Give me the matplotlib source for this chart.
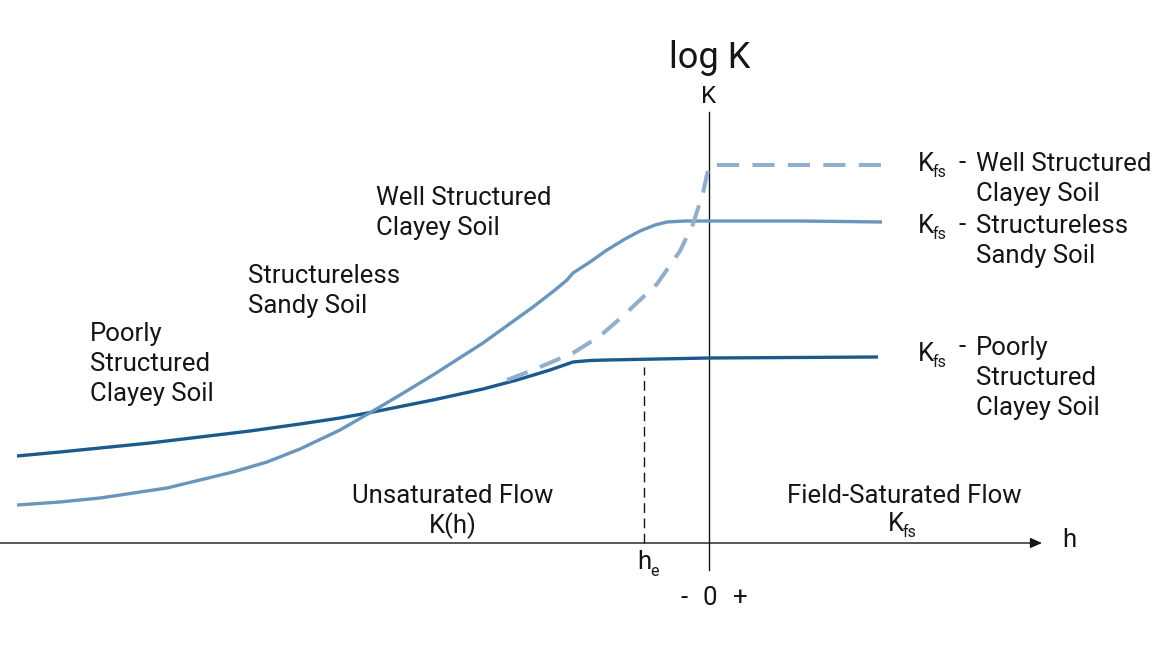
import matplotlib.pyplot as plt

plt.rcParams['font.family'] = ['Roboto', 'DejaVu Sans']

# schematic curves: h (0 = saturation) vs log K, arbitrary units
poorly_h = [-692, -649, -609, -559, -509, -459, -409, -369, -336, -276, -226, -192, -159, -136,
            -119, -102, 0, 169]
poorly_k = [87, 91, 95, 100, 106, 112, 119, 125, 131, 143, 154, 163, 173, 181,
            182.5, 183, 185, 186]

sandy_h = [-692, -649, -609, -542, -476, -442, -409, -369, -336, -309, -276, -251, -226, -201,
           -176, -154, -142, -136, -119, -102, -84, -69, -54, -42, -24, 0, 91, 173]
sandy_k = [38, 41, 45, 55, 71, 81, 94, 113, 132, 148, 168, 184, 200, 218,
           236, 253, 263, 270, 281, 293, 304, 312, 318, 321, 322, 322, 322, 321]

well_h = [-202, -176, -136, -109, -86, -52, -29, -16, -6, -1]
well_k = [163, 173, 190, 207, 227, 259, 292, 319, 350, 373]
well_sat_h = [8, 173]
well_sat_k = [378, 378]

h_e = -65
he_top = 176

c_poor = '#1c5a8d'
c_sandy = '#6a96bc'
c_well = '#90afcc'
c_text = '#151515'

fig = plt.figure(figsize=(11.55, 6.5), dpi=100)
ax = fig.add_axes([0, 0, 1, 1])
ax.set_xlim(-709, 446)
ax.set_ylim(-107, 543)
ax.axis('off')

# axes of the diagram
ax.annotate('', xy=(333, 0), xytext=(-709, 0),
            arrowprops=dict(arrowstyle='-|>,head_length=0.5,head_width=0.22', color=c_text, lw=1.0,
                            mutation_scale=14, shrinkA=0, shrinkB=0))
ax.plot([0, 0], [-27, 431], color=c_text, lw=1.0)
ax.plot([h_e, h_e], [0, he_top], color=c_text, lw=1.0, ls=(0, (7, 4)))

ax.plot(poorly_h, poorly_k, color=c_poor, lw=2.4, solid_capstyle='butt', solid_joinstyle='round')
ax.plot(sandy_h, sandy_k, color=c_sandy, lw=2.4, solid_capstyle='butt', solid_joinstyle='round')
ax.plot(well_h, well_k, color=c_well, lw=2.9, ls=(0, (5.5, 3.3)))
ax.plot(well_sat_h, well_sat_k, color=c_well, lw=2.9, ls=(0, (5.5, 3.3)))

fs = 18.5
kw = dict(fontsize=fs, color=c_text, va='baseline')
sub = dict(fontsize=11.5, color=c_text, va='baseline')


def lines(x, y0, texts, ha='left', step=30):
    for i, t in enumerate(texts):
        ax.text(x, 543 - (y0 + i * step), t, ha=ha, **kw)


def kfs(x, y):
    ax.text(x, 543 - y, 'K', ha='left', **kw)
    ax.text(x + 15, 543 - (y + 6), 'fs', ha='left', **sub)


ax.text(1, 543 - 68, 'log K', fontsize=26, color=c_text, ha='center', va='baseline')
ax.text(0, 543 - 103, 'K', fontsize=17.5, color=c_text, ha='center', va='baseline')
ax.text(353, 543 - 547, 'h', ha='left', **kw)
ax.text(-72, 543 - 569, 'h', ha='left', **kw)
ax.text(-59, 543 - 576, 'e', ha='left', **sub)
ax.text(-25, 543 - 605, '-', ha='center', **kw)
ax.text(1, 543 - 605, '0', ha='center', **kw)
ax.text(31, 543 - 605, '+', ha='center', **kw)

lines(-333, 205, ['Well Structured', 'Clayey Soil'])
lines(-461, 283, ['Structureless', 'Sandy Soil'])
lines(-619, 341, ['Poorly', 'Structured', 'Clayey Soil'])
lines(-256, 503, ['Unsaturated Flow', 'K(h)'], ha='center')
ax.text(195, 543 - 503, 'Field-Saturated Flow', ha='center', **kw)
kfs(179, 531)

for y_k, y_t, texts in [(171, 171, ['Well Structured', 'Clayey Soil']),
                        (233, 233, ['Structureless', 'Sandy Soil']),
                        (361, 355, ['Poorly', 'Structured', 'Clayey Soil'])]:
    kfs(209, y_k)
    ax.text(253, 543 - (y_t - 1), '-', ha='center', **kw)
    lines(267, y_t, texts)

fig.savefig('out.png', dpi=100)
